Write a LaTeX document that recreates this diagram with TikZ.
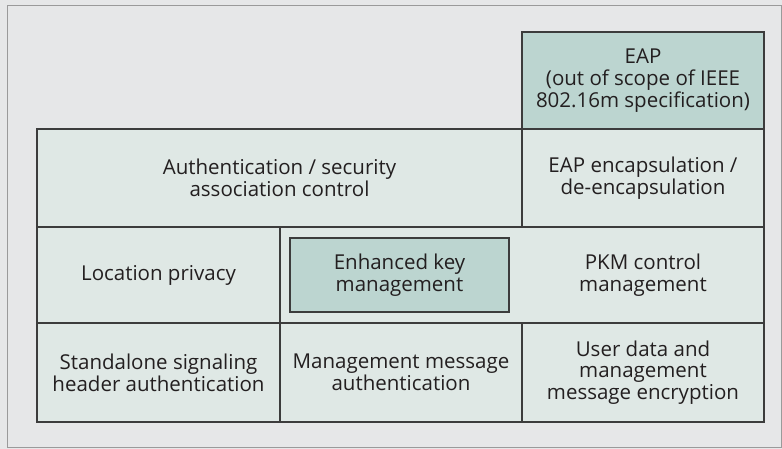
\documentclass[tikz,border=0pt]{standalone}
\usepackage{fontspec}
\setmainfont{Open Sans}
\definecolor{bgc}{HTML}{E6E7E8}
\definecolor{cellc}{HTML}{DFE8E5}
\definecolor{darkc}{HTML}{BCD5D0}
\definecolor{linec}{HTML}{3C3C3C}
\definecolor{framec}{HTML}{9A9A9A}
\definecolor{textc}{HTML}{231F20}
\tikzset{
  cell/.style={draw=linec, line width=1.1pt, fill=cellc, inner sep=0pt, align=center,
    text=textc, font=\fontsize{20.5}{21.7}\selectfont},
  darkcell/.style={cell, fill=darkc},
  txt/.style={inner sep=0pt, align=center, text=textc, font=\fontsize{20.5}{21.7}\selectfont}
}
\begin{document}
\begin{tikzpicture}[x=1pt,y=-1pt]
\useasboundingbox (0,0) rectangle (782,449);
\fill[bgc] (0,0) rectangle (782,449);
\draw[framec, line width=1pt] (7,6) rectangle (781,447);
\node[darkcell, minimum width=242pt, minimum height=97pt] (eap) at (643,80.5) {EAP\\(out of scope of IEEE\\802.16m specification)};
\node[cell, minimum width=485pt, minimum height=98pt] (auth) at (279.5,178) {Authentication / security\\association control};
\node[cell, minimum width=242pt, minimum height=98pt] (encap) at (643,178) {EAP encapsulation /\\de-encapsulation};
\node[cell, minimum width=243pt, minimum height=96pt] (loc) at (158.5,275) {Location privacy};
\node[cell, minimum width=484pt, minimum height=96pt] (pkm) at (522,275) {};
\node[txt] (pkmtxt) at (643,275) {PKM control\\management};
\node[darkcell, minimum width=219pt, minimum height=74pt] (ekm) at (399.5,275) {Enhanced key\\management};
\node[cell, minimum width=243pt, minimum height=99pt] (sa) at (158.5,372.5) {Standalone signaling\\header authentication};
\node[cell, minimum width=242pt, minimum height=99pt] (mma) at (401,372.5) {Management message\\authentication};
\node[cell, minimum width=242pt, minimum height=99pt] (ude) at (643,372.5) {User data and\\management\\message encryption};
\end{tikzpicture}
\end{document}
